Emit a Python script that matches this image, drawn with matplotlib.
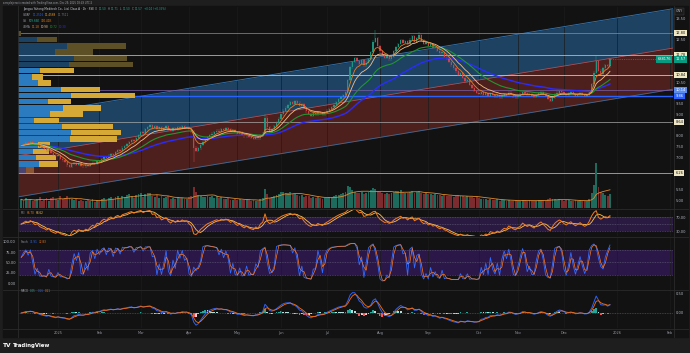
import numpy as np
import matplotlib
matplotlib.use("Agg")
import matplotlib.pyplot as plt

W, H = 690, 353

# daily closes, trading-day index (0 = first session of 2025)
closes = [
    7.55, 7.62, 7.70, 7.66, 7.74, 7.68, 7.58, 7.62, 7.50, 7.44,
    7.40, 7.32, 7.36, 7.20, 7.12, 7.05, 7.10, 6.92, 6.85, 6.78,
    6.62, 6.55, 6.68, 6.74, 6.66, 6.72, 6.60, 6.58, 6.65, 6.60,
    6.68, 6.75, 6.70, 6.82, 6.80, 6.92, 7.00, 6.96, 7.08, 7.15,
    7.10, 7.24, 7.32, 7.28, 7.45, 7.52, 7.60, 7.72, 7.80, 7.76,
    7.92, 8.05, 8.18, 8.12, 8.30, 8.42, 8.50, 8.38, 8.45, 8.32,
    8.40, 8.28, 8.36, 8.44, 8.30, 8.22, 8.35, 8.28, 8.40, 8.34,
    8.45, 8.38, 8.42, 8.30, 8.20, 7.45, 7.30, 7.42, 7.58, 7.70,
    7.82, 7.95, 8.02, 8.10, 8.18, 8.25, 8.20, 8.32, 8.28, 8.35,
    8.30, 8.22, 8.28, 8.18, 8.10, 8.15, 8.05, 7.98, 8.04, 7.95,
    7.90, 7.86, 7.94, 7.88, 8.02, 8.10, 8.85, 8.40, 8.20, 8.30,
    8.45, 8.62, 8.80, 9.00, 9.18, 9.32, 9.45, 9.58, 9.50, 9.62,
    9.55, 9.40, 9.48, 9.30, 9.15, 9.02, 8.95, 9.05, 9.00, 9.12,
    9.05, 9.00, 9.10, 9.18, 9.26, 9.35, 9.46, 9.58, 9.70, 9.80,
    9.90, 10.05, 10.60, 11.20, 11.45, 11.62, 11.50, 11.38, 11.55, 11.30,
    11.42, 11.60, 11.90, 12.40, 12.55, 12.20, 11.95, 11.80, 11.65, 11.72,
    11.58, 11.70, 11.95, 12.15, 12.30, 12.48, 12.35, 12.42, 12.28, 12.50,
    12.65, 12.40, 12.55, 12.70, 12.45, 12.30, 12.38, 12.20, 12.28, 12.10,
    12.15, 11.98, 11.85, 11.92, 11.70, 11.62, 11.45, 11.30, 11.15, 11.02,
    10.85, 10.92, 10.70, 10.55, 10.60, 10.38, 10.25, 10.10, 10.02, 9.95,
    10.05, 9.92, 9.98, 9.88, 10.00, 9.90, 9.85, 9.92, 9.80, 9.88,
    9.95, 9.90, 10.02, 9.96, 9.85, 9.80, 9.88, 9.92, 10.05, 9.98,
    9.90, 9.95, 9.88, 9.82, 9.90, 9.98, 10.04, 9.95, 9.86, 9.72,
    9.65, 9.78, 9.92, 10.02, 10.10, 10.05, 9.96, 9.90, 9.98, 10.04,
    9.95, 9.88, 9.94, 10.00, 9.92, 9.86, 9.90, 10.05, 10.40, 10.95,
    11.50, 11.05, 10.90, 11.15, 11.30, 11.25, 11.57,
]
volumes = [
    5.2, 4.1, 6.0, 4.8, 5.5, 3.9, 4.6, 5.1, 6.3, 4.4,
    5.0, 6.2, 4.3, 5.8, 6.6, 5.1, 4.7, 6.9, 5.4, 5.9,
    7.2, 6.0, 5.1, 4.6, 5.3, 4.2, 5.0, 4.4, 3.9, 4.5,
    4.1, 5.2, 3.8, 4.9, 4.4, 5.6, 6.1, 4.7, 5.8, 6.4,
    5.2, 6.6, 7.1, 5.5, 7.4, 6.8, 7.6, 8.2, 7.0, 6.1,
    7.8, 8.4, 8.9, 6.7, 8.1, 8.8, 9.2, 7.3, 6.8, 7.5,
    6.2, 7.0, 5.8, 6.4, 6.9, 5.5, 6.1, 5.3, 6.6, 5.7,
    6.0, 5.2, 5.6, 6.3, 7.4, 12.5, 9.8, 7.6, 6.9, 6.4,
    6.8, 7.2, 6.5, 6.9, 6.1, 7.0, 5.9, 6.3, 5.6, 5.2,
    5.8, 5.0, 4.7, 5.4, 4.9, 5.5, 4.6, 4.8, 5.3, 4.5,
    4.3, 4.8, 4.4, 4.1, 5.2, 5.8, 11.6, 8.4, 6.2, 6.8,
    7.1, 7.9, 8.6, 9.3, 9.8, 8.7, 9.0, 9.6, 8.1, 8.5,
    7.8, 7.2, 7.5, 6.8, 7.4, 6.9, 6.2, 6.6, 5.9, 6.3,
    5.7, 5.4, 6.0, 6.2, 6.5, 6.8, 7.1, 7.5, 7.9, 8.3,
    8.8, 9.6, 13.2, 12.4, 10.6, 9.8, 9.1, 8.7, 9.4, 8.5,
    8.9, 9.5, 10.8, 12.1, 11.4, 10.2, 9.6, 9.1, 8.6, 8.9,
    8.4, 8.8, 9.3, 9.9, 10.4, 10.9, 9.7, 9.2, 8.8, 9.6,
    10.2, 9.1, 9.5, 10.1, 8.9, 8.4, 8.7, 8.1, 8.5, 7.9,
    8.2, 7.6, 7.9, 7.3, 7.8, 7.1, 6.9, 7.4, 6.8, 7.2,
    7.6, 6.9, 7.3, 6.6, 7.0, 6.4, 6.8, 6.2, 6.5, 6.0,
    5.6, 5.2, 5.5, 5.0, 5.3, 4.8, 4.6, 5.1, 4.4, 4.7,
    4.5, 4.2, 4.8, 4.4, 4.1, 4.6, 4.3, 4.0, 4.9, 4.5,
    4.2, 4.6, 4.3, 4.0, 4.4, 4.7, 5.0, 4.5, 4.2, 5.3,
    5.8, 5.1, 5.4, 4.9, 5.2, 4.6, 4.3, 4.8, 4.5, 4.2,
    4.4, 4.7, 4.1, 4.5, 4.2, 4.0, 4.3, 5.6, 8.9, 13.5,
    27.0, 12.6, 9.4, 8.8, 7.6, 7.1, 8.2,
]
days = np.arange(-16, -16 + len(closes))
special_high = {90: 9.00, 138: 12.95, 157: 12.85, 234: 11.75}
special_low = {59: 6.80}

month_ticks = [0, 18, 36, 57, 78, 97, 117, 140, 161, 183, 200, 220, 243, 266]
month_labels = ["2025", "Feb", "Mar", "Apr", "May", "Jun", "Jul", "Aug",
                "Sep", "Oct", "Nov", "Dec", "2026", "Feb"]

# regression channel (mid line end points) and half widths
chan_days = [-17.4, 267.4]
chan_mid = [7.07, 12.10]
chan_up, chan_dn = 1.84, 1.92

# key levels
levels = [12.80, 11.78, 10.84, 10.14, 9.86, 8.64, 6.26]
level_colors = ["#8c8c8c", "#d9cfb0", "#ece2c6", "#7a5fa8", "#2962ff", "#a8a8a8", "#cfc6a6"]
level_boxes = ["#efe7c4", "#efe7c4", "#efe7c4", "#5b8def", "#2962ff", "#efe7c4", "#efe7c4"]
last_price = 11.57

# volume profile rows (bottom -> top), up / down volume
vp_bottom, vp_step = 6.26, 0.29
vp_up = [8, 21, 18, 15, 20, 52, 53, 44, 16, 32, 45, 30, 53, 43, 20, 14, 22, 51, 56, 37, 49, 19, 0]
vp_down = [8, 19, 20, 16, 12, 47, 50, 51, 25, 33, 38, 23, 64, 39, 13, 11, 34, 64, 53, 38, 59, 20, 3]

BG = "#121212"
PX0, PX1 = 18, 673
XL = (-17.4, 267.4)
PYL = (4.63, 14.02)


def ema(x, span):
    a = 2.0 / (span + 1)
    out = np.empty(len(x))
    out[0] = x[0]
    for i in range(1, len(x)):
        out[i] = a * x[i] + (1 - a) * out[i - 1]
    return out


def sma(x, n):
    return np.array([np.mean(x[max(0, i - n + 1):i + 1]) for i in range(len(x))])


def rsi(x, n):
    d = np.diff(x, prepend=x[0])
    up, dn = np.clip(d, 0, None), np.clip(-d, 0, None)
    au, ad = np.zeros(len(x)), np.zeros(len(x))
    au[0], ad[0] = 0.05, 0.05
    for i in range(1, len(x)):
        au[i] = (au[i - 1] * (n - 1) + up[i]) / n
        ad[i] = (ad[i - 1] * (n - 1) + dn[i]) / n
    return 100 - 100 / (1 + au / ad)


c = np.array(closes)
o = np.r_[c[0] - 0.04, c[:-1]]
hi = np.maximum(o, c) + 0.06
lo = np.minimum(o, c) - 0.06
for d, v in special_high.items():
    hi[d + 16] = v
for d, v in special_low.items():
    lo[d + 16] = v
vol = np.array(volumes)
upbar = c >= o

ema_fast, ema_mid, ema_slow, ema_long = ema(c, 5), ema(c, 10), ema(c, 22), ema(c, 45)
rsi_line = rsi(c, 9)
rsi_ma = sma(rsi_line, 4)
n = 4
raw_k = np.array([100 * (c[i] - lo[max(0, i - n + 1):i + 1].min()) /
                  (hi[max(0, i - n + 1):i + 1].max() - lo[max(0, i - n + 1):i + 1].min())
                  for i in range(len(c))])
stoch_k = raw_k
stoch_d = sma(stoch_k, 2)
macd = ema(c, 3) - ema(c, 7)
signal = ema(macd, 3)
hist = macd - signal


def rect(y0, y1, x0=PX0, x1=PX1):
    return [x0 / W, 1 - y1 / H, (x1 - x0) / W, (y1 - y0) / H]


def price_px(v):
    return 7 + (PYL[1] - v) / (PYL[1] - PYL[0]) * 201


def clean(ax):
    for s in ax.spines.values():
        s.set_visible(False)
    ax.set_xticks([])
    ax.set_yticks([])
    ax.set_xlim(*XL)


fig = plt.figure(figsize=(W / 100, H / 100), dpi=100)
fig.patch.set_facecolor("#1e1e1e")

ax_bg = fig.add_axes([0, 0, 1, 1], zorder=-5)
ax_bg.set_xlim(0, W)
ax_bg.set_ylim(H, 0)
ax_bg.axis("off")
ax_bg.add_patch(plt.Rectangle((3, 6), 685, 331, color=BG))

# ---- price pane layers
ax_ch = fig.add_axes(rect(7, 208), zorder=1)
ax_ch.set_facecolor("none")
clean(ax_ch)
ax_ch.set_ylim(*PYL)
for t in month_ticks:
    ax_ch.axvline(t, color="#1c1c1c", lw=0.5)
mid = np.array(chan_mid)
ax_ch.fill_between(chan_days, mid, mid + chan_up, color="#1d4262", lw=0)
ax_ch.fill_between(chan_days, mid - chan_dn, mid, color="#4e201d", lw=0)
ax_ch.plot(chan_days, mid + chan_up, color="#3577b5", lw=0.6)
ax_ch.plot(chan_days, mid, color="#b84a4a", lw=0.6)
ax_ch.plot(chan_days, mid - chan_dn, color="#3b6c99", lw=0.6)
for lv, col in zip(levels, level_colors):
    if lv == 9.86:
        ax_ch.axhline(lv, xmin=(135 - PX0) / (PX1 - PX0), color=col, lw=1.0)
    else:
        ax_ch.axhline(lv, color=col, lw=0.6, alpha=0.85)

ax_vp = fig.add_axes(rect(7, 208), zorder=2)
ax_vp.set_facecolor("none")
clean(ax_vp)
ax_vp.set_xlim(0, PX1 - PX0)
ax_vp.set_ylim(*PYL)
centers = vp_bottom + vp_step * (np.arange(len(vp_up)) + 0.5)
up_cols = ["#4c4470"] + ["#2a7bc0"] * 16 + ["#1b4263"] * 6
dn_cols = ["#8a5532"] + ["#d6a836"] * 16 + ["#5e5026"] * 6
ax_vp.barh(centers, vp_up, height=vp_step * 0.88, left=0, color=up_cols, lw=0)
ax_vp.barh(centers, vp_down, height=vp_step * 0.88, left=vp_up, color=dn_cols, lw=0)

ax_vol = fig.add_axes(rect(7, 208), zorder=3)
ax_vol.set_facecolor("none")
clean(ax_vol)
ax_vol.set_ylim(0, 120)
ax_vol.bar(days, vol, width=0.8, color=np.where(upbar, "#1d6b5c", "#7d2b2e"), lw=0)
ax_vol.plot(days, sma(vol, 10), color="#e08a2e", lw=0.6)

ax_p = fig.add_axes(rect(7, 208), zorder=4)
ax_p.set_facecolor("none")
clean(ax_p)
ax_p.set_ylim(*PYL)
col = np.where(upbar, "#1f9e87", "#d9434c")
ax_p.vlines(days, lo, hi, color=col, lw=0.35, alpha=0.9)
ax_p.bar(days, np.maximum(np.abs(c - o), 0.02), bottom=np.minimum(o, c), width=0.55,
         color=col, lw=0, alpha=0.9)
ax_p.plot(days, ema_long, color="#2a2cff", lw=1.0)
ax_p.plot(days, ema_slow, color="#21952f", lw=0.8)
ax_p.plot(days, ema_mid, color="#f3bf86", lw=0.6)
ax_p.plot(days, ema_fast, color="#e8801f", lw=0.6)
ax_p.axhline(last_price, xmin=0.9, color="#1fa38a", lw=0.4, ls=(0, (2, 2)))
near = [lv for lv in levels] + [last_price]
pt = [t for t in np.arange(5.0, 13.51, 0.5) if min(abs(t - v) for v in near) > 0.27]
ax_p.yaxis.tick_right()
ax_p.set_yticks(pt)
ax_p.set_yticklabels([f"{t:.2f}" for t in pt])
ax_p.tick_params(axis="y", length=0, pad=2.2, labelsize=2.6, labelcolor="#b2b5be")

# ---- RSI
ax_r = fig.add_axes(rect(209, 236), zorder=4)
ax_r.set_facecolor(BG)
clean(ax_r)
ax_r.set_ylim(16, 93)
for t in month_ticks:
    ax_r.axvline(t, color="#1c1c1c", lw=0.5)
ax_r.axhspan(30, 70, color="#2a1a42", lw=0)
for lv in (30, 50, 70):
    ax_r.axhline(lv, color="#6b6b80", lw=0.4, ls=(0, (1.5, 1.5)))
ax_r.plot(days, rsi_ma, color="#ffc24d", lw=0.6)
ax_r.plot(days, rsi_line, color="#f57c1f", lw=0.7)
ax_r.yaxis.tick_right()
ax_r.set_yticks([30, 70])
ax_r.set_yticklabels(["30.00", "70.00"])
ax_r.tick_params(axis="y", length=0, pad=2.2, labelsize=2.6, labelcolor="#b2b5be")

# ---- Stochastic
ax_s = fig.add_axes(rect(237, 290), zorder=4)
ax_s.set_facecolor(BG)
clean(ax_s)
ax_s.set_ylim(-17, 112)
for t in month_ticks:
    ax_s.axvline(t, color="#1c1c1c", lw=0.5)
ax_s.axhspan(20, 80, color="#2b1748", lw=0)
for lv in (20, 50, 80):
    ax_s.axhline(lv, color="#6b6b80", lw=0.4, ls=(0, (1.5, 1.5)))
ax_s.plot(days, stoch_k, color="#2f6bff", lw=0.6)
ax_s.plot(days, stoch_d, color="#ff7a1a", lw=0.5)
ax_s.set_yticks([0, 25, 50, 75, 100])
ax_s.set_yticklabels(["0.00", "25.00", "50.00", "75.00", "100.00"])
ax_s.tick_params(axis="y", length=0, pad=1.5, labelsize=2.6, labelcolor="#b2b5be")

# ---- MACD
ax_m = fig.add_axes(rect(290, 328), zorder=4)
ax_m.set_facecolor(BG)
clean(ax_m)
ax_m.set_ylim(-0.395, 0.605)
for t in month_ticks:
    ax_m.axvline(t, color="#1c1c1c", lw=0.5)
ax_m.axhline(0, color="#6b6b6b", lw=0.4, ls=(0, (1.5, 1.5)))
dh = np.diff(hist, prepend=hist[0])
hcol = np.where(hist >= 0, np.where(dh >= 0, "#26a69a", "#b2dfdb"),
                np.where(dh < 0, "#ff5252", "#ffcdd2"))
ax_m.bar(days, hist, width=0.8, color=hcol, lw=0)
ax_m.plot(days, macd, color="#2962ff", lw=0.7)
ax_m.plot(days, signal, color="#ff6d00", lw=0.6)
ax_m.yaxis.tick_right()
ax_m.set_yticks([0, 0.5])
ax_m.set_yticklabels(["0.00", "0.50"])
ax_m.tick_params(axis="y", length=0, pad=2.2, labelsize=2.6, labelcolor="#b2b5be")
ax_m.set_xticks(month_ticks)
ax_m.set_xticklabels(month_labels)
ax_m.tick_params(axis="x", length=0, pad=2.0, labelsize=2.5, labelcolor="#9598a1")

# ---- overlay: separators, labels, legends
ax_o = fig.add_axes([0, 0, 1, 1], zorder=10)
ax_o.set_facecolor("none")
ax_o.set_xlim(0, W)
ax_o.set_ylim(H, 0)
ax_o.axis("off")
for y in (208.5, 236.5, 289.5, 328.5):
    ax_o.plot([3, 688], [y, y], color="#2b2b2b", lw=0.6)
for x in (17.5, 673.5):
    ax_o.plot([x, x], [6, 337], color="#2b2b2b", lw=0.6)

for lv, bc in zip(levels, level_boxes):
    tc = "white" if bc in ("#2962ff", "#5b8def") else "#131722"
    ax_o.text(675.5, price_px(lv), f"{lv:.2f}", fontsize=2.6, color=tc, va="center", ha="left",
              bbox=dict(boxstyle="square,pad=0.3", fc=bc, ec="none"))
ax_o.text(675.5, price_px(last_price), f"{last_price:.2f}", fontsize=2.6, color="white",
          va="center", ha="left", bbox=dict(boxstyle="square,pad=0.3", fc="#089981", ec="none"))
ax_o.text(671, price_px(last_price), "688176", fontsize=2.6, color="white",
          va="center", ha="right", bbox=dict(boxstyle="square,pad=0.3", fc="#089981", ec="none"))
ax_o.text(676, 11.5, "CNY", fontsize=2.5, color="#b2b5be", va="center", ha="left",
          bbox=dict(boxstyle="square,pad=0.3", fc="#1a1a1a", ec="#444444", lw=0.3))


def chain(x, y, parts, size=2.0):
    t = ax_o.text(x, y, parts[0][0], color=parts[0][1], fontsize=size, va="center", ha="left")
    for s, cl in parts[1:]:
        t = ax_o.annotate(s, xy=(1, 0.5), xycoords=t, xytext=(0.9, 0), textcoords="offset points",
                          color=cl, fontsize=size, va="center", ha="left")


G, GR = "#9598a1", "#22ab94"
ax_o.text(3, 2.8, "aeroplejeroxt created with TradingView.com, Dec 29, 2025 08:49 UTC-5",
          fontsize=1.8, color="#a0a3ab", va="center", ha="left")
chain(23, 9, [("Jiangsu Yahong Meditech Co., Ltd. Class A · 1h · SSE", "#d1d4dc"),
              ("O", G), ("11.50", GR), ("H", G), ("11.71", GR), ("L", G), ("11.50", GR),
              ("C", G), ("11.57", GR), ("+0.04 (+0.35%)", GR)])
chain(23, 15, [("VWAP", G), ("11.2516", "#2962ff"), ("11.4568", "#f0a030"), ("11.7511", "#787b86")])
chain(23, 21, [("Vol", G), ("509.66K", GR), ("330.41K", "#f57c00")])
chain(23, 26.5, [("4EMA", G), ("11.18", "#e8801f"), ("10.98", "#f3bf86"),
                 ("10.72", "#21952f"), ("10.30", "#2a2cff")])
chain(21, 212.5, [("RSI", G), ("66.70", "#f57c1f"), ("68.62", "#ffc24d")])
chain(21, 242, [("Stoch", G), ("71.91", "#2f6bff"), ("72.83", "#ff7a1a")])
chain(21, 291.5, [("MACD", G), ("0.05", "#26a69a"), ("0.16", "#2962ff"), ("0.11", "#ff6d00")])

ax_o.text(3, 345.5, "TV", fontsize=4.2, color="white", fontweight="bold", va="center", ha="left")
ax_o.text(12.5, 345.5, "TradingView", fontsize=3.9, color="white", fontweight="bold",
          va="center", ha="left")

fig.savefig("out.png", dpi=100, facecolor=fig.get_facecolor())
